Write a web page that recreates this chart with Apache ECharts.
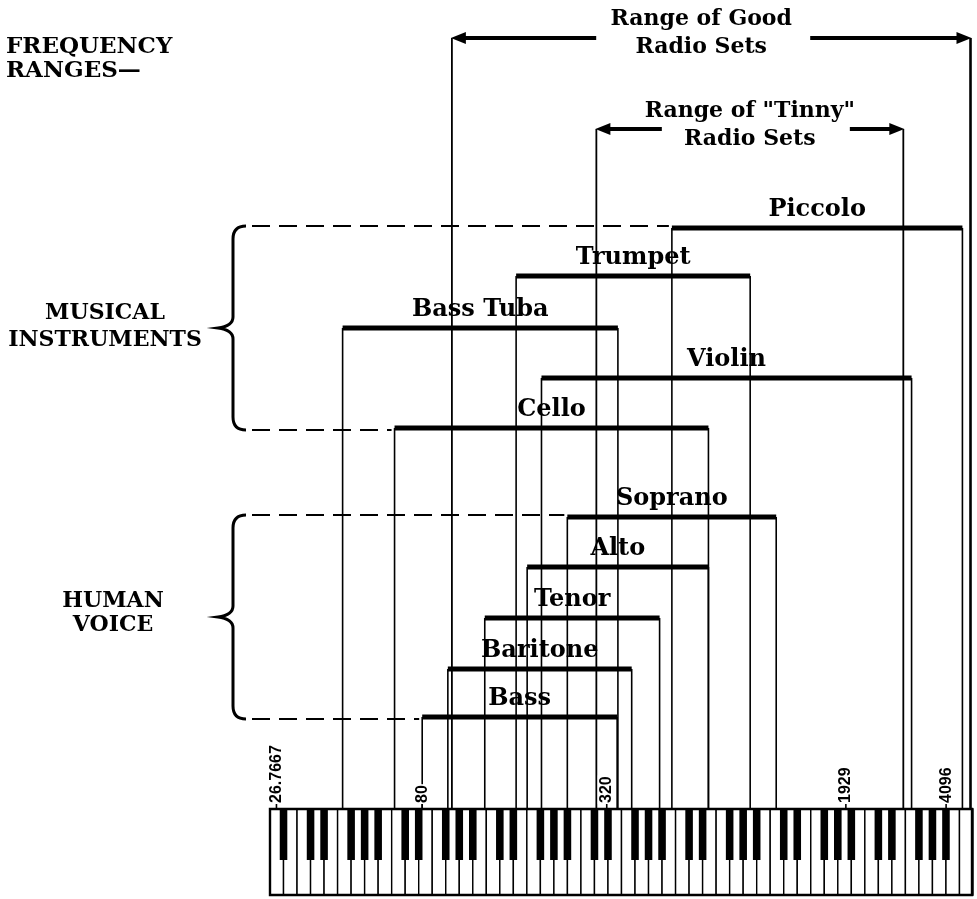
<!DOCTYPE html>
<html>
<head>
<meta charset="utf-8">
<script src="https://cdn.jsdelivr.net/npm/echarts@6/dist/echarts.min.js"></script>
<style>
html, body { margin: 0; padding: 0; background: #fff; }
#chart { width: 977px; height: 899px; }
</style>
</head>
<body>
<div id="chart"></div>
<script>
// frequency ranges in Hz
var instruments = ['Piccolo', 'Trumpet', 'Bass Tuba', 'Violin', 'Cello'];
var instLow = [522, 162, 44, 196, 65];
var instHigh = [4630, 940, 348, 3160, 687];

var voices = ['Soprano', 'Alto', 'Tenor', 'Baritone', 'Bass'];
var voiceLow = [238, 176, 128, 97, 80];
var voiceHigh = [1143, 687, 476, 386, 346];

var radios = ['Range of Good\nRadio Sets', 'Range of "Tinny"\nRadio Sets'];
var radioLow = [100, 296];
var radioHigh = [4920, 2970];

var markFreq = [26.7667, 80, 320, 1929, 4096];
var markText = ['26.7667', '80', '320', '1929', '4096'];

// 88 key piano, A0 .. C8 = 52 white keys
var whiteNames = ['A', 'B', 'C', 'D', 'E', 'F', 'G'];
var whiteCount = 52;
var keyLow = 25.5, keyHigh = 5013;

// layout: row heights on the (pixel) y axis
var radioY = [38, 129];
var radioTextShift = [[-10, -5], [0, -4]];
var radioGap = [[105, 109], [88, 100]];
var instY = [228, 276, 328, 378, 428];
var voiceY = [517, 567, 618, 669, 717];
var keyTop = 809, keyBottom = 895, blackBottom = 860;

var serif = '"DejaVu Serif", "Liberation Serif", serif';

function L(f) { return Math.log(f) / Math.LN2; }
var xMin = L(keyLow), xMax = L(keyHigh);

var chart = echarts.init(document.getElementById('chart'));

// bars and drop lines
var barNames = [], barData = [], dropData = [];
for (var i = 0; i < instruments.length; i++) {
    barNames.push(instruments[i]);
    barData.push([L(instLow[i]), L(instHigh[i]), instY[i]]);
}
for (var i = 0; i < voices.length; i++) {
    barNames.push(voices[i]);
    barData.push([L(voiceLow[i]), L(voiceHigh[i]), voiceY[i]]);
}
for (var i = 0; i < barData.length; i++) {
    dropData.push([barData[i][0], barData[i][2], 1.6]);
    dropData.push([barData[i][1], barData[i][2], 1.6]);
}
var radioData = [];
for (var i = 0; i < radios.length; i++) {
    radioData.push([L(radioLow[i]), L(radioHigh[i]), radioY[i]]);
    dropData.push([L(radioLow[i]), radioY[i], 1.8]);
    dropData.push([L(radioHigh[i]), radioY[i], i == 0 ? 2.6 : 1.8]);
}

var groupData = [
    [barData[0][0], instY[0], barData[4][0], instY[4]],
    [barData[5][0], voiceY[0], barData[9][0], voiceY[4]]
];

var markData = [];
for (var i = 0; i < markFreq.length; i++) markData.push([L(markFreq[i])]);

var option = {
    animation: false,
    backgroundColor: '#fff',
    grid: { left: 270, right: 4, top: 0, bottom: 0 },
    xAxis: { type: 'value', min: xMin, max: xMax, show: false },
    yAxis: { type: 'value', min: 0, max: 899, inverse: true, show: false },
    graphic: [
        { type: 'text', left: 6, top: 35, style: { text: 'FREQUENCY\nRANGES\u2014', font: 'bold 23px ' + serif, lineHeight: 24, fill: '#000' } },
        { type: 'text', x: 105, y: 327, style: { text: 'MUSICAL\nINSTRUMENTS', font: 'bold 22px ' + serif, lineHeight: 27, fill: '#000', textAlign: 'center', textVerticalAlign: 'middle' } },
        { type: 'text', x: 113, y: 613, style: { text: 'HUMAN\nVOICE', font: 'bold 22px ' + serif, lineHeight: 24, fill: '#000', textAlign: 'center', textVerticalAlign: 'middle' } }
    ],
    series: [
        {
            name: 'drops', type: 'custom', z: 1,
            data: dropData,
            renderItem: function (params, api) {
                var a = api.coord([api.value(0), api.value(1)]);
                var b = api.coord([api.value(0), keyTop]);
                return { type: 'line', shape: { x1: a[0], y1: a[1], x2: b[0], y2: b[1] }, style: { stroke: '#000', lineWidth: api.value(2) } };
            }
        },
        {
            name: 'groups', type: 'custom', z: 2,
            data: groupData,
            renderItem: function (params, api) {
                var top = api.coord([api.value(0), api.value(1)]);
                var bot = api.coord([api.value(2), api.value(3)]);
                var bx = 233, ex = 246, tip = 218;
                var t = top[1] - 2, d = bot[1] + 2, m = (t + d) / 2;
                var path = 'M' + ex + ' ' + t + ' Q' + bx + ' ' + t + ' ' + bx + ' ' + (t + 13) +
                    ' L' + bx + ' ' + (m - 11) + ' Q' + bx + ' ' + (m - 2) + ' ' + tip + ' ' + m +
                    ' Q' + bx + ' ' + (m + 2) + ' ' + bx + ' ' + (m + 11) +
                    ' L' + bx + ' ' + (d - 13) + ' Q' + bx + ' ' + d + ' ' + ex + ' ' + d;
                return { type: 'group', children: [
                    { type: 'path', shape: { pathData: path }, style: { fill: null, stroke: '#000', lineWidth: 3 } },
                    { type: 'line', shape: { x1: ex + 6, y1: t, x2: top[0] - 3, y2: t }, style: { stroke: '#000', lineWidth: 2, lineDash: [18, 9] } },
                    { type: 'line', shape: { x1: ex + 6, y1: d, x2: bot[0] - 3, y2: d }, style: { stroke: '#000', lineWidth: 2, lineDash: [18, 9] } }
                ] };
            }
        },
        {
            name: 'ranges', type: 'custom', z: 3,
            data: barData,
            renderItem: function (params, api) {
                var a = api.coord([api.value(0), api.value(2)]);
                var b = api.coord([api.value(1), api.value(2)]);
                return { type: 'group', children: [
                    { type: 'line', shape: { x1: a[0], y1: a[1], x2: b[0], y2: b[1] }, style: { stroke: '#000', lineWidth: 5 } },
                    { type: 'text', x: (a[0] + b[0]) / 2, y: a[1] - 18, style: { text: barNames[params.dataIndex], font: 'bold 24px ' + serif, fill: '#000', textAlign: 'center', textVerticalAlign: 'middle' } }
                ] };
            }
        },
        {
            name: 'radio', type: 'custom', z: 3,
            data: radioData,
            renderItem: function (params, api) {
                var i = params.dataIndex;
                var a = api.coord([api.value(0), api.value(2)]);
                var b = api.coord([api.value(1), api.value(2)]);
                var y = a[1];
                var cx = (a[0] + b[0]) / 2 + radioTextShift[i][0];
                var g = radioGap[i];
                return { type: 'group', children: [
                    { type: 'line', shape: { x1: a[0] + 10, y1: y, x2: cx - g[0], y2: y }, style: { stroke: '#000', lineWidth: 4 } },
                    { type: 'line', shape: { x1: cx + g[1], y1: y, x2: b[0] - 10, y2: y }, style: { stroke: '#000', lineWidth: 4 } },
                    { type: 'polygon', shape: { points: [[a[0] - 1, y], [a[0] + 14, y - 6], [a[0] + 14, y + 6]] }, style: { fill: '#000' } },
                    { type: 'polygon', shape: { points: [[b[0] + 1, y], [b[0] - 14, y - 6], [b[0] - 14, y + 6]] }, style: { fill: '#000' } },
                    { type: 'text', x: cx, y: y + radioTextShift[i][1], style: { text: radios[i], font: 'bold 22px ' + serif, lineHeight: 28, fill: '#000', textAlign: 'center', textVerticalAlign: 'middle' } }
                ] };
            }
        },
        {
            name: 'keyboard', type: 'custom', z: 4,
            data: [[xMin, xMax]],
            renderItem: function (params, api) {
                var lo = api.value(0), hi = api.value(1);
                var step = (hi - lo) / whiteCount;
                var kids = [];
                for (var k = 0; k < whiteCount; k++) {
                    var p = api.coord([lo + k * step, keyTop]);
                    var q = api.coord([lo + (k + 1) * step, keyBottom]);
                    kids.push({ type: 'rect', shape: { x: p[0], y: p[1], width: q[0] - p[0], height: q[1] - p[1] }, style: { fill: '#fff', stroke: '#000', lineWidth: 1.4 } });
                }
                for (var k = 0; k < whiteCount - 1; k++) {
                    var n = whiteNames[k % 7];
                    if (n == 'B' || n == 'E') continue;
                    var c = api.coord([lo + (k + 1) * step, keyTop]);
                    var w = api.size([step, 0])[0] * 0.56;
                    kids.push({ type: 'rect', shape: { x: c[0] - w / 2, y: keyTop, width: w, height: blackBottom - keyTop }, style: { fill: '#000' } });
                }
                var p0 = api.coord([lo, keyTop]), p1 = api.coord([hi, keyBottom]);
                kids.push({ type: 'rect', shape: { x: p0[0], y: p0[1], width: p1[0] - p0[0] - 1, height: p1[1] - p0[1] }, style: { fill: null, stroke: '#000', lineWidth: 2.4 } });
                return { type: 'group', children: kids };
            }
        },
        {
            name: 'marks', type: 'custom', z: 5,
            data: markData,
            renderItem: function (params, api) {
                var p = api.coord([api.value(0), keyTop]);
                return { type: 'group', children: [
                    { type: 'line', shape: { x1: p[0], y1: p[1] - 5, x2: p[0], y2: p[1] }, style: { stroke: '#000', lineWidth: 1.6 } },
                    { type: 'text', x: p[0], y: p[1] - 5, rotation: Math.PI / 2, style: { text: markText[params.dataIndex], font: 'bold 16px "Liberation Sans", Arial, sans-serif', fill: '#000', backgroundColor: '#fff', padding: [1, 1, 1, 1], textAlign: 'left', textVerticalAlign: 'middle' } }
                ] };
            }
        }
    ]
};

chart.setOption(option);
window.onresize = chart.resize;
</script>
</body>
</html>
